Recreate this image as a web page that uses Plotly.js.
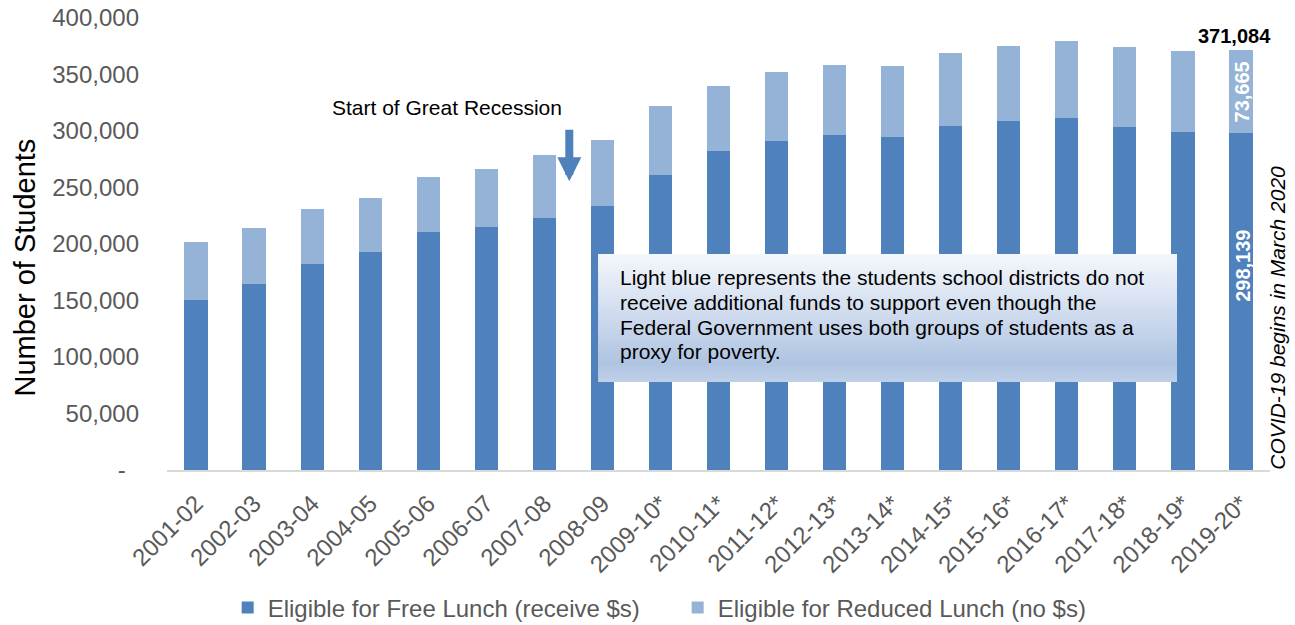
<!DOCTYPE html>
<html>
<head>
<meta charset="utf-8">
<script src="https://cdn.plot.ly/plotly-3.0.1.min.js"></script>
<style>html,body{margin:0;padding:0;background:#fff;}#chart{width:1295px;height:625px;}</style>
</head>
<body>
<div id="chart"></div>
<script>
const categories = ['2001-02','2002-03','2003-04','2004-05','2005-06','2006-07','2007-08','2008-09','2009-10*','2010-11*','2011-12*','2012-13*','2013-14*','2014-15*','2015-16*','2016-17*','2017-18*','2018-19*','2019-20*'];
const freeLunch = [150500,164700,182300,192900,210300,215000,223000,233800,261200,282400,291000,296200,294800,304500,309200,311500,303300,298900,298139];
const reducedLunch = [51500,49200,48300,48000,48600,51800,55600,57800,60900,57400,61500,61900,62700,64200,65900,68000,71200,71500,73665];
const seriesNames = ['Eligible for Free Lunch (receive $s)','Eligible for Reduced Lunch (no $s)'];
const yTickVals = [0,50000,100000,150000,200000,250000,300000,350000,400000];
const yTickText = ['-\u00a0\u00a0','50,000','100,000','150,000','200,000','250,000','300,000','350,000','400,000'];
const yAxisTitle = 'Number of Students';
const lastTotalLabel = '371,084';
const lastFreeLabel = '298,139';
const lastReducedLabel = '73,665';
const recessionText = 'Start of Great Recession';
const covidText = 'COVID-19 begins in March 2020';
const boxLines = [
  'Light blue represents the students school districts do not',
  'receive additional funds to support even though the',
  'Federal Government uses both groups of students as a',
  'proxy for poverty.'
];

const FONT = 'Liberation Sans, Arial, Helvetica, sans-serif';
const DARK = '#4f81bd', LIGHT = '#95b3d7';
const last = categories.length - 1;
const PH = 625 - 18 - 155; // plot height in px

const traces = [
  {type:'bar', name:seriesNames[0], x:categories, y:freeLunch, marker:{color:DARK}, hoverinfo:'skip'},
  {type:'bar', name:seriesNames[1], x:categories, y:reducedLunch, marker:{color:LIGHT}, hoverinfo:'skip'}
];

const boxSvg = '<svg xmlns="http://www.w3.org/2000/svg" width="100" height="100" viewBox="0 0 100 100" preserveAspectRatio="none">'+
 '<defs><linearGradient id="g" x1="0" y1="0" x2="0" y2="1">'+
 '<stop offset="0" stop-color="#f4f7fc"/><stop offset="0.55" stop-color="#c9d7ec"/>'+
 '<stop offset="0.85" stop-color="#afc4e1"/><stop offset="1" stop-color="#bfcfe8"/>'+
 '</linearGradient></defs><rect width="100" height="100" fill="url(#g)"/></svg>';

function py(p){ return (470 - p) / PH; }

const annotations = [
  {xref:'paper', yref:'paper', x:-0.1296, y:py(267.5), text:yAxisTitle, showarrow:false, textangle:-90,
   font:{family:FONT, size:29, color:'#000'}, xanchor:'center', yanchor:'middle'},
  {xref:'x', yref:'y', x:4.33, y:320700, text:recessionText, showarrow:false,
   font:{family:FONT, size:21, color:'#000'}, xanchor:'center', yanchor:'middle'},
  {xref:'x', yref:'y', x:6.43, y:255600, text:'', showarrow:true, ax:0, ay:-53,
   arrowhead:2, arrowsize:0.6, arrowwidth:8, arrowcolor:DARK},
  {xref:'x', yref:'y', x:last, y:freeLunch[last]+reducedLunch[last], text:'<b>'+lastTotalLabel+'</b>', showarrow:false,
   font:{family:FONT, size:20, color:'#000'}, xanchor:'center', yanchor:'bottom', xshift:-6, yshift:1},
  {xref:'x', yref:'y', x:last, y:freeLunch[last]+reducedLunch[last]/2, text:'<b>'+lastReducedLabel+'</b>', showarrow:false,
   textangle:-90, font:{family:FONT, size:20, color:'#fff'}, xanchor:'center', yanchor:'middle', xshift:2},
  {xref:'x', yref:'y', x:last, y:freeLunch[last]*0.606, text:'<b>'+lastFreeLabel+'</b>', showarrow:false,
   textangle:-90, font:{family:FONT, size:20, color:'#fff'}, xanchor:'center', yanchor:'middle', xshift:2},
  {xref:'paper', yref:'paper', x:1.007, y:py(318), text:'<i>'+covidText+'</i>', showarrow:false,
   textangle:-90, font:{family:FONT, size:21, color:'#000'}, xanchor:'center', yanchor:'middle'}
];
boxLines.forEach(function(t,i){
  annotations.push({xref:'paper', yref:'paper', x:0.4089, y:py(277+25*i), text:t, showarrow:false,
    font:{family:FONT, size:21, color:'#000'}, xanchor:'left', yanchor:'middle'});
});

const layout = {
  width:1295, height:625,
  margin:{l:167, r:25, t:18, b:155, autoexpand:false},
  paper_bgcolor:'#fff', plot_bgcolor:'#fff',
  barmode:'stack', bargap:0.6,
  font:{family:FONT, color:'#595959'},
  showlegend:true,
  legend:{orientation:'h', x:0.055, xanchor:'left', y:py(608), yanchor:'middle',
    font:{family:FONT, size:24, color:'#595959'}, entrywidth:405, entrywidthmode:'pixels', traceorder:'normal'},
  xaxis:{type:'category', range:[-0.5, categories.length-0.5], tickangle:-45, automargin:false,
    tickfont:{family:FONT, size:24, color:'#595959'}, ticklabelstandoff:8, showline:true, linecolor:'#d9d9d9', linewidth:2,
    ticks:'', showgrid:false, zeroline:false, fixedrange:true},
  yaxis:{range:[0,400000], tickvals:yTickVals, ticktext:yTickText, ticks:'', ticklabelstandoff:27, automargin:false,
    tickfont:{family:FONT, size:24, color:'#595959'}, showgrid:false, zeroline:false, showline:false, fixedrange:true},
  images:[{source:'data:image/svg+xml;charset=utf-8,'+encodeURIComponent(boxSvg), xref:'paper', yref:'paper',
    x:0.3908, y:py(254), sizex:0.5249, sizey:(382-254)/PH, sizing:'stretch', xanchor:'left', yanchor:'top', layer:'above'}],
  annotations:annotations
};

Plotly.newPlot('chart', traces, layout, {staticPlot:true, displayModeBar:false});
</script>
</body>
</html>
